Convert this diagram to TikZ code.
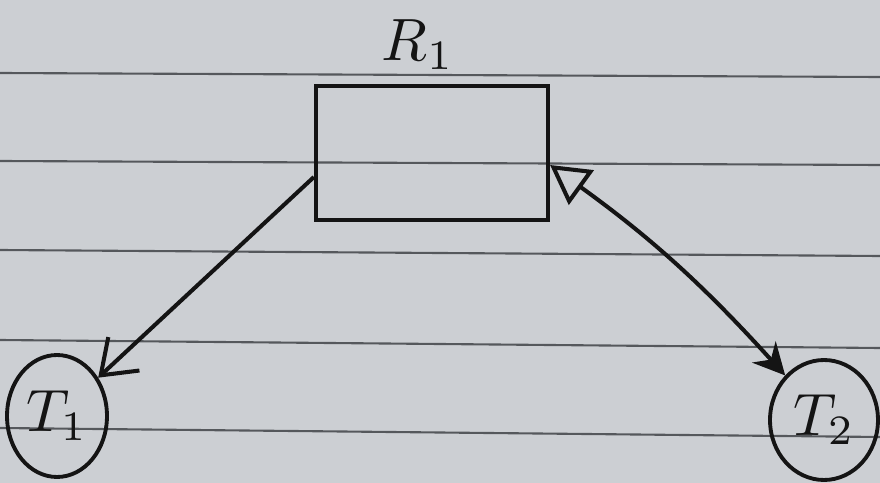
\documentclass[tikz,border=0pt]{standalone}
\usepackage{amsmath,amssymb}
\usepackage{graphicx}
\usepackage{xcolor}
\usepackage{tikz}
\usetikzlibrary{arrows.meta, positioning, shapes.geometric}
\definecolor{paper}{RGB}{204,207,211}
\definecolor{rule}{RGB}{85,88,92}
\definecolor{ink}{RGB}{20,20,20}

\begin{document}
\begin{tikzpicture}[x=0.02cm, y=-0.02cm,
      res/.style={draw=ink, line width=2.4pt, minimum width=4.64cm,
                  minimum height=2.68cm, inner sep=0pt},
      task/.style={draw=ink, ellipse, line width=2.2pt, inner sep=0pt, text=ink},
      lbl/.style={text=ink},
      arr/.style={line width=2.3pt, ink}
    ]
    % paper and ruled lines
    \fill[paper] (0,0) rectangle (880,483);
    \useasboundingbox (0,0) rectangle (880,483);
    \foreach \yl/\yr in {73/77, 161/165, 250/256, 340/348, 428/437}
      \draw[rule, line width=1.2pt] (0,\yl) -- (880,\yr);

    \node[res] (r1) at (432,153) {};
    \node[lbl] (r1lbl) at (418,45) {\scalebox{3.4}{$R_1$}};
    \node[task, minimum width=2.0cm, minimum height=2.44cm] (t1) at (57,416) {\scalebox{3.4}{$T_1$}};
    \node[task, minimum width=2.16cm, minimum height=2.4cm] (t2) at (824,420) {\scalebox{3.4}{$T_2$}};

    \draw[arr, -{Straight Barb[length=18pt, width=26pt]}] ([yshift=-0.48cm]r1.west) -- (t1);
    \draw[arr, {Triangle[open, length=22pt, width=24pt, line width=2.3pt]}-{Stealth[length=18pt, width=18pt]}]
      ([yshift=-0.24cm]r1.east) to[bend left=6] (t2);
  \end{tikzpicture}
\end{document}
